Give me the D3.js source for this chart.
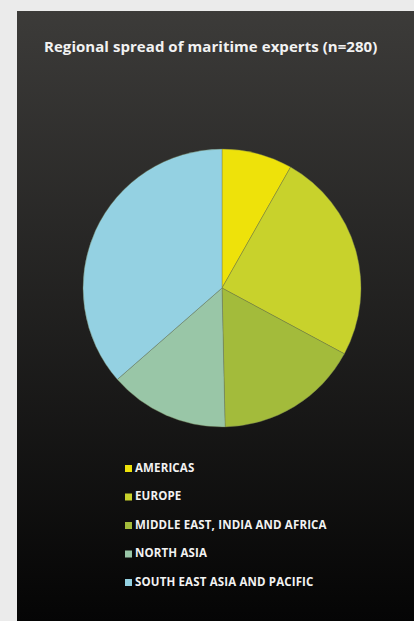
<!DOCTYPE html>
<html>
<head>
<meta charset="utf-8">
<script src="https://cdn.jsdelivr.net/npm/d3@7"></script>
<style>
  body { margin: 0; background: #ebebeb; }
  svg { display: block; }
</style>
</head>
<body>
<svg id="viz"></svg>
<script>
var width = 414;
var height = 621;

// data (n=280)
var regions = ["AMERICAS", "EUROPE", "MIDDLE EAST, INDIA AND AFRICA", "NORTH ASIA", "SOUTH EAST ASIA AND PACIFIC"];
var counts = [23, 69, 47, 39, 102];
var colours = ["#eee20a", "#c8d22c", "#a3bb3b", "#99c6a7", "#94d1e2"];

var svg = d3.select("#viz").attr("width", width).attr("height", height);

var defs = svg.append("defs");
var grad = defs.append("linearGradient")
    .attr("id", "bg")
    .attr("x1", 0).attr("y1", 0)
    .attr("x2", 0).attr("y2", 1);
grad.append("stop").attr("offset", "0%").attr("stop-color", "#3c3b39");
grad.append("stop").attr("offset", "100%").attr("stop-color", "#050505");

// dark panel
svg.append("rect")
    .attr("x", 17)
    .attr("y", 11)
    .attr("width", width - 17)
    .attr("height", height - 11)
    .attr("fill", "url(#bg)");

svg.append("text")
    .attr("x", 44)
    .attr("y", 52)
    .attr("fill", "#f2f2f2")
    .style("font-family", "'Open Sans', sans-serif")
    .style("font-weight", "bold")
    .style("font-size", "15px")
    .style("letter-spacing", "0.05px")
    .text("Regional spread of maritime experts (n=280)");

var color = d3.scaleOrdinal().domain(regions).range(colours);

var pie = d3.pie().sort(null).value(function (d, i) { return counts[i]; });
var arc = d3.arc().innerRadius(0).outerRadius(139);

var g = svg.append("g").attr("transform", "translate(222,288)");

g.selectAll("path")
    .data(pie(regions))
    .enter()
    .append("path")
    .attr("d", arc)
    .attr("fill", function (d) { return color(d.data); })
    .attr("stroke", "#6f7a52")
    .attr("stroke-width", 0.4);

var y = d3.scalePoint().domain(regions).range([467, 581]);

var legend = svg.append("g").attr("class", "legend")
    .selectAll("g")
    .data(regions)
    .enter()
    .append("g")
    .attr("transform", function (d) { return "translate(125," + y(d) + ")"; });

legend.append("rect")
    .attr("x", 0)
    .attr("y", -2)
    .attr("width", 7)
    .attr("height", 7)
    .attr("fill", function (d) { return color(d); });

legend.append("text")
    .attr("x", 10)
    .attr("y", 4.5)
    .attr("fill", "#f2f2f2")
    .style("font-family", "'Open Sans', sans-serif")
    .style("font-weight", "bold")
    .style("font-size", "11.5px")
    .style("letter-spacing", "0.15px")
    .text(function (d) { return d; });
</script>
</body>
</html>
